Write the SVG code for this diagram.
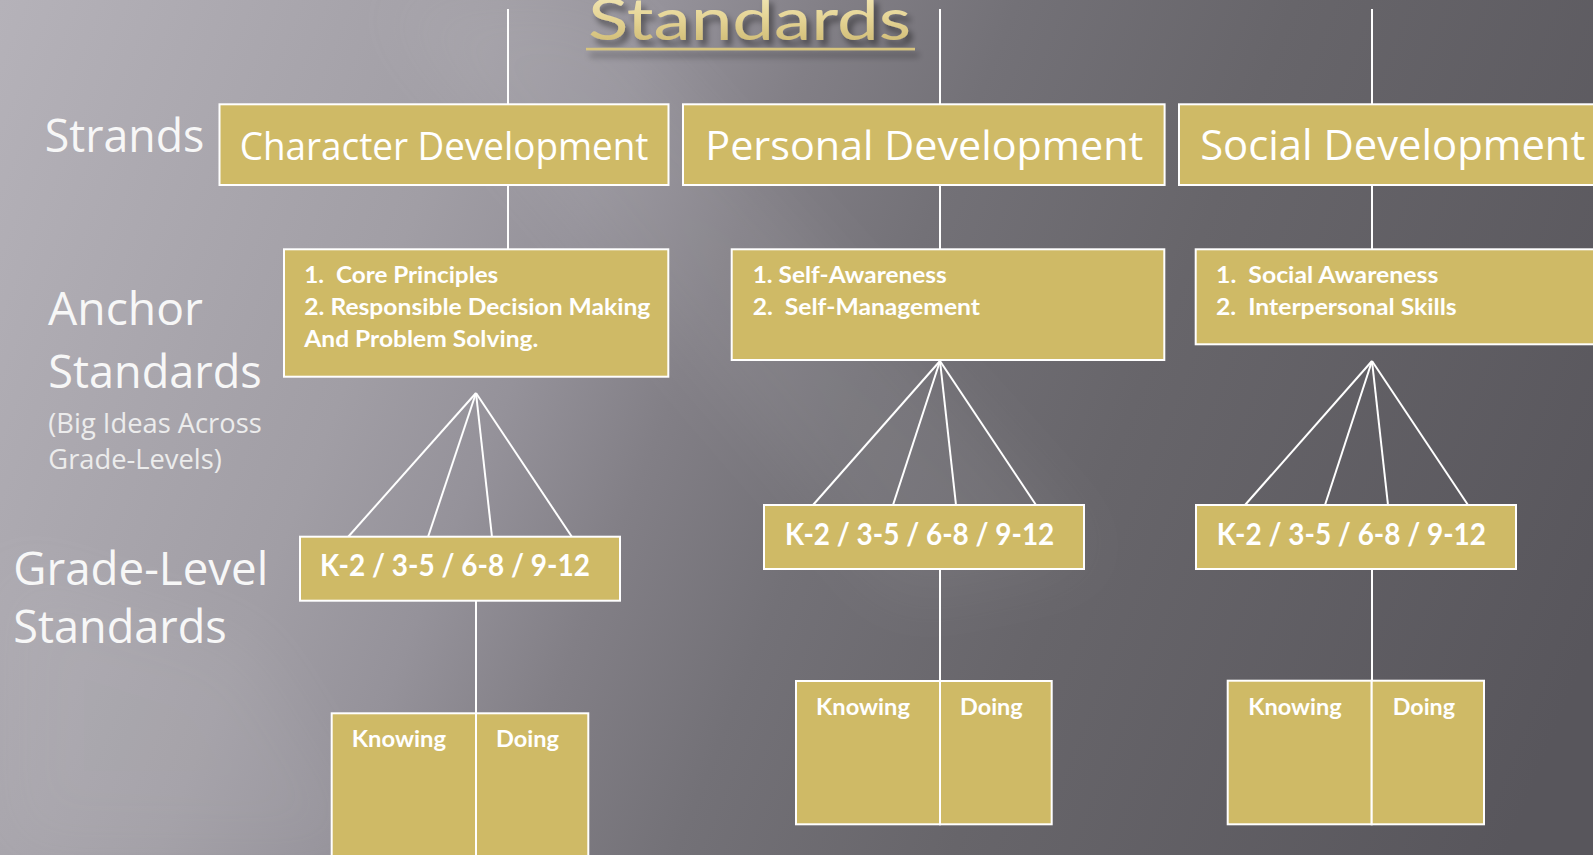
<svg xmlns="http://www.w3.org/2000/svg" width="1593" height="855" viewBox="0 0 1593 855">
<defs>
<linearGradient id="bg" gradientUnits="userSpaceOnUse" x1="0" y1="0" x2="1593" y2="640">
<stop offset="0" stop-color="#b5b2b9"/>
<stop offset="0.27" stop-color="#a19ea5"/>
<stop offset="0.36" stop-color="#95929a"/>
<stop offset="0.45" stop-color="#827f86"/>
<stop offset="0.55" stop-color="#737177"/>
<stop offset="0.7" stop-color="#67656a"/>
<stop offset="1" stop-color="#58565c"/>
</linearGradient>
<linearGradient id="gold" x1="0" y1="0" x2="0" y2="1">
<stop offset="0" stop-color="#f6eec4"/>
<stop offset="0.5" stop-color="#e6d596"/>
<stop offset="1" stop-color="#c9b46c"/>
</linearGradient>
<filter id="tshadow" filterUnits="userSpaceOnUse" x="540" y="-30" width="420" height="110">
<feDropShadow dx="4" dy="6" stdDeviation="3" flood-color="#000" flood-opacity="0.45"/>
</filter>
<filter id="soft" x="-20%" y="-20%" width="140%" height="140%">
<feGaussianBlur stdDeviation="35"/>
</filter>
<style>
.box{fill:#cfba66;stroke:#ffffff;stroke-width:2}
.conn line{stroke:#ffffff;stroke-width:2}
.lbl{font-family:"Open Sans","DejaVu Sans",sans-serif;fill:#f7f7f7}
.sub{font-family:"Open Sans","DejaVu Sans",sans-serif;fill:#ececec}
.strand{font-family:"Open Sans","DejaVu Sans",sans-serif;fill:#ffffff}
.bt{font-family:Lato,"Liberation Sans",sans-serif;font-weight:700;fill:#ffffff}
</style>
</defs>

<!-- background -->
<rect x="0" y="0" width="1593" height="855" fill="url(#bg)"/>
<polygon points="380,0 600,0 1100,560 900,600" fill="#ffffff" opacity="0.06" filter="url(#soft)"/>
<polygon points="0,560 250,640 380,855 0,855" fill="#ffffff" opacity="0.05" filter="url(#soft)"/>

<!-- title -->
<g id="title" filter="url(#tshadow)">
<text x="588" y="40" font-family="Lato,'Liberation Sans',sans-serif" font-size="58" fill="url(#gold)" textLength="323" lengthAdjust="spacingAndGlyphs">Standards</text>
<rect x="586" y="47.8" width="329" height="2.6" fill="#d8c57e"/>
</g>

<!-- row labels -->
<g id="row-labels">
<text class="lbl" x="44.7" y="151.7" font-size="45" textLength="159.6" lengthAdjust="spacingAndGlyphs">Strands</text>
<text class="lbl" x="48" y="325" font-size="45" textLength="155" lengthAdjust="spacingAndGlyphs">Anchor</text>
<text class="lbl" x="48.3" y="388.3" font-size="45" textLength="213.4" lengthAdjust="spacingAndGlyphs">Standards</text>
<text class="sub" x="48.3" y="433.3" font-size="27" textLength="213.4" lengthAdjust="spacingAndGlyphs">(Big Ideas Across</text>
<text class="sub" x="48.3" y="469" font-size="27" textLength="173.4" lengthAdjust="spacingAndGlyphs">Grade-Levels)</text>
<text class="lbl" x="13.3" y="585" font-size="46" textLength="255" lengthAdjust="spacingAndGlyphs">Grade-Level</text>
<text class="lbl" x="13.3" y="643.3" font-size="45" textLength="213.4" lengthAdjust="spacingAndGlyphs">Standards</text>
</g>

<!-- connectors -->
<g id="connectors" class="conn">
<line x1="508" y1="9" x2="508" y2="104"/>
<line x1="940" y1="9" x2="940" y2="104"/>
<line x1="1372" y1="9" x2="1372" y2="104"/>
<line x1="508" y1="185" x2="508" y2="249"/>
<line x1="940" y1="185" x2="940" y2="249"/>
<line x1="1372" y1="185" x2="1372" y2="249"/>
<line x1="476" y1="393" x2="348" y2="537"/>
<line x1="476" y1="393" x2="428" y2="537"/>
<line x1="476" y1="393" x2="492" y2="537"/>
<line x1="476" y1="393" x2="572" y2="537"/>
<line x1="940" y1="361" x2="813" y2="505"/>
<line x1="940" y1="361" x2="893" y2="505"/>
<line x1="940" y1="361" x2="956" y2="505"/>
<line x1="940" y1="361" x2="1036" y2="505"/>
<line x1="1372" y1="361" x2="1245" y2="505"/>
<line x1="1372" y1="361" x2="1325" y2="505"/>
<line x1="1372" y1="361" x2="1388" y2="505"/>
<line x1="1372" y1="361" x2="1468" y2="505"/>
<line x1="476" y1="601" x2="476" y2="713"/>
<line x1="940" y1="569" x2="940" y2="681"/>
<line x1="1372" y1="569" x2="1372" y2="681"/>
</g>

<!-- strands -->
<g id="strand-character">
<rect class="box" x="219.5" y="104.3" width="449" height="80.7"/>
<text class="strand" x="239.8" y="159.5" font-size="38" textLength="408.6" lengthAdjust="spacingAndGlyphs">Character Development</text>
</g>
<g id="strand-personal">
<rect class="box" x="683" y="104.3" width="481.6" height="80.7"/>
<text class="strand" x="705.3" y="159.5" font-size="41" textLength="438" lengthAdjust="spacingAndGlyphs">Personal Development</text>
</g>
<g id="strand-social">
<rect class="box" x="1179" y="104.3" width="430" height="80.7"/>
<text class="strand" x="1200.2" y="159.5" font-size="41.5" textLength="385.2" lengthAdjust="spacingAndGlyphs">Social Development</text>
</g>

<!-- anchor standards -->
<g id="anchor-character">
<rect class="box" x="284" y="249.3" width="384.3" height="127.4"/>
<text class="bt" xml:space="preserve" x="304.3" y="283.3" font-size="22" textLength="194" lengthAdjust="spacingAndGlyphs">1.  Core Principles</text>
<text class="bt" x="304.3" y="314.7" font-size="22" textLength="346" lengthAdjust="spacingAndGlyphs">2. Responsible Decision Making</text>
<text class="bt" x="304.3" y="346.5" font-size="22" textLength="234" lengthAdjust="spacingAndGlyphs">And Problem Solving.</text>
</g>
<g id="anchor-personal">
<rect class="box" x="731.7" y="249.3" width="432.6" height="110.7"/>
<text class="bt" x="752.7" y="283.3" font-size="22" textLength="194" lengthAdjust="spacingAndGlyphs">1. Self-Awareness</text>
<text class="bt" xml:space="preserve" x="752.7" y="315" font-size="22" textLength="227.3" lengthAdjust="spacingAndGlyphs">2.  Self-Management</text>
</g>
<g id="anchor-social">
<rect class="box" x="1195.7" y="249.3" width="420" height="95"/>
<text class="bt" xml:space="preserve" x="1216" y="283.3" font-size="22" textLength="222.3" lengthAdjust="spacingAndGlyphs">1.  Social Awareness</text>
<text class="bt" xml:space="preserve" x="1216" y="315" font-size="22" textLength="240.7" lengthAdjust="spacingAndGlyphs">2.  Interpersonal Skills</text>
</g>

<!-- grade-level standards -->
<g id="grade-character">
<rect class="box" x="300" y="536.7" width="320" height="64"/>
<text class="bt" x="320" y="576" font-size="29.5" textLength="270" lengthAdjust="spacingAndGlyphs">K-2 / 3-5 / 6-8 / 9-12</text>
</g>
<g id="grade-personal">
<rect class="box" x="764" y="505" width="320" height="64"/>
<text class="bt" x="785" y="545" font-size="29.5" textLength="269.3" lengthAdjust="spacingAndGlyphs">K-2 / 3-5 / 6-8 / 9-12</text>
</g>
<g id="grade-social">
<rect class="box" x="1196" y="505" width="320" height="64"/>
<text class="bt" x="1216.7" y="545" font-size="29.5" textLength="269.3" lengthAdjust="spacingAndGlyphs">K-2 / 3-5 / 6-8 / 9-12</text>
</g>

<!-- knowing / doing -->
<g id="kd-character">
<rect class="box" x="331.7" y="713.3" width="144.3" height="160"/>
<rect class="box" x="476" y="713.3" width="112.3" height="160"/>
<text class="bt" x="351.7" y="747.3" font-size="23.5" textLength="94.3" lengthAdjust="spacingAndGlyphs">Knowing</text>
<text class="bt" x="496" y="747.3" font-size="23.5" textLength="63" lengthAdjust="spacingAndGlyphs">Doing</text>
</g>
<g id="kd-personal">
<rect class="box" x="796" y="681" width="144" height="143.3"/>
<rect class="box" x="940" y="681" width="111.7" height="143.3"/>
<text class="bt" x="816" y="715" font-size="23.5" textLength="94" lengthAdjust="spacingAndGlyphs">Knowing</text>
<text class="bt" x="960" y="715" font-size="23.5" textLength="62.7" lengthAdjust="spacingAndGlyphs">Doing</text>
</g>
<g id="kd-social">
<rect class="box" x="1227.7" y="680.7" width="144" height="143.6"/>
<rect class="box" x="1371.7" y="680.7" width="112.3" height="143.6"/>
<text class="bt" x="1248.3" y="715" font-size="23.5" textLength="93.3" lengthAdjust="spacingAndGlyphs">Knowing</text>
<text class="bt" x="1392.7" y="715" font-size="23.5" textLength="62.3" lengthAdjust="spacingAndGlyphs">Doing</text>
</g>
</svg>
